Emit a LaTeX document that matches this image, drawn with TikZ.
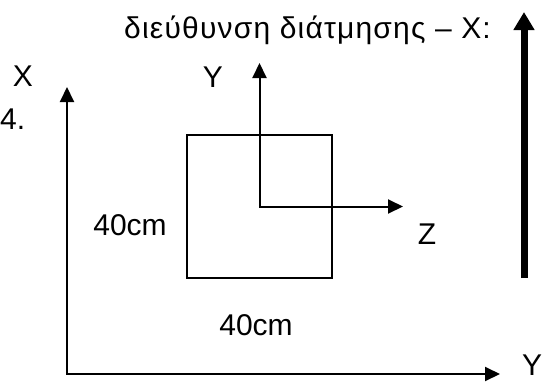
\documentclass[tikz,border=0pt]{standalone}
\usepackage{fontspec}
\setmainfont{Liberation Sans}
\newfontfamily\greekfont[LetterSpace=4]{Liberation Sans}
\usetikzlibrary{arrows.meta,positioning}

\begin{document}
\begin{tikzpicture}[x=1pt, y=-1pt,
  axis/.style={{Triangle[length=15pt,width=14pt]}-{Triangle[length=15pt,width=14pt]}, line width=2pt},
  force/.style={-{Triangle[length=18pt,width=20pt]}, line width=7pt},
  sect/.style={draw, line width=1.6pt, minimum width=145pt, minimum height=143pt, inner sep=0pt},
  lbl/.style={inner sep=0pt, font=\fontsize{30}{36}\selectfont}
]
\useasboundingbox (0,0) rectangle (549,381);
% global axes X-Y
\coordinate (O) at (67,374);
\coordinate (Xtip) at (67,87);
\coordinate (Ytip) at (500,374);
\draw[axis] (Xtip) -- (O) -- (Ytip);
\node[lbl] (lx) at (23,76) {X};
\node[lbl] (ly) at (532,365) {Y};
\node[lbl, anchor=west] (num) at (0,119) {4.};
% cross-section with local axes Y-Z
\node[sect] (sec) at (259.5,206.5) {};
\coordinate (Yi) at (259.5,63);
\coordinate (Zi) at (403,206.5);
\draw[axis] (Yi) -- (sec.center) -- (Zi);
\node[lbl] (lyi) at (213,77) {Y};
\node[lbl] (lz) at (427,234) {Z};
\node[lbl] (dimv) at (130,225) {40cm};
\node[lbl] (dimh) at (256,325) {40cm};
% shear direction
\coordinate (Fb) at (524,278);
\coordinate (Ft) at (524,12);
\draw[force] (Fb) -- (Ft);
\node[inner sep=0pt, anchor=base west, font=\greekfont\fontsize{30}{36}\selectfont] (title) at (124,38) {διεύθυνση διάτμησης – X:};
\end{tikzpicture}
\end{document}
